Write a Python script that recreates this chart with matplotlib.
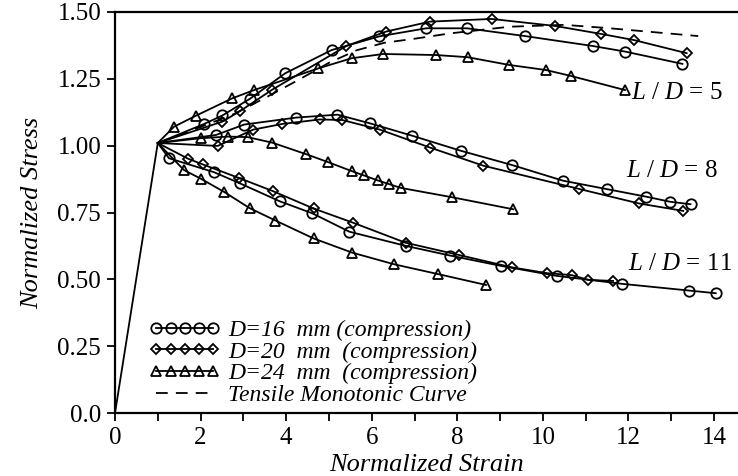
import matplotlib
matplotlib.use("Agg")
import matplotlib.pyplot as plt
from matplotlib.ticker import FixedLocator, MultipleLocator

plt.rcParams['font.family'] = ['Liberation Serif', 'DejaVu Serif']
plt.rcParams['mathtext.fontset'] = 'custom'
plt.rcParams['mathtext.rm'] = 'Liberation Serif'
plt.rcParams['mathtext.it'] = 'Liberation Serif:italic'

# ---------------- data ----------------
elastic_x = [0.0, 1.0]
elastic_y = [0.0, 1.01]

# L/D = 5
c5_x = [1.0, 2.08, 2.51, 3.15, 3.98, 5.07, 6.18, 7.27, 8.23, 9.58, 11.16, 11.92, 13.26]
c5_y = [1.01, 1.081, 1.113, 1.175, 1.271, 1.358, 1.409, 1.439, 1.439, 1.410, 1.373, 1.352, 1.306]
d5_x = [1.0, 2.51, 2.92, 3.67, 5.41, 6.34, 7.36, 8.80, 10.28, 11.36, 12.13, 13.36]
d5_y = [1.01, 1.090, 1.129, 1.209, 1.373, 1.427, 1.464, 1.474, 1.448, 1.418, 1.395, 1.346]
t5_x = [1.0, 1.38, 1.89, 2.74, 3.25, 4.75, 5.53, 6.27, 7.50, 8.24, 9.21, 10.07, 10.65, 11.92]
t5_y = [1.01, 1.071, 1.112, 1.177, 1.208, 1.289, 1.327, 1.343, 1.339, 1.331, 1.302, 1.283, 1.261, 1.208]

# L/D = 8
c8_x = [1.0, 2.36, 3.02, 4.23, 5.20, 5.97, 6.93, 8.08, 9.27, 10.47, 11.51, 12.42, 12.98, 13.45]
c8_y = [1.01, 1.040, 1.079, 1.105, 1.116, 1.083, 1.038, 0.981, 0.928, 0.869, 0.837, 0.809, 0.790, 0.781]
d8_x = [1.0, 2.40, 3.23, 3.90, 4.79, 5.31, 6.19, 7.36, 8.61, 10.85, 12.24, 13.28]
d8_y = [1.01, 0.999, 1.060, 1.081, 1.098, 1.096, 1.060, 0.993, 0.925, 0.838, 0.784, 0.756]
t8_x = [1.0, 2.01, 2.65, 3.10, 3.68, 4.47, 4.97, 5.53, 5.81, 6.14, 6.41, 6.68, 7.88, 9.31]
t8_y = [1.01, 1.028, 1.034, 1.032, 1.011, 0.968, 0.939, 0.905, 0.889, 0.870, 0.856, 0.842, 0.807, 0.762]

# L/D = 11
c11_x = [1.0, 1.26, 2.31, 2.92, 3.85, 4.61, 5.48, 6.80, 7.83, 9.03, 10.32, 11.86, 13.42, 14.04]
c11_y = [1.01, 0.953, 0.901, 0.859, 0.792, 0.747, 0.678, 0.625, 0.589, 0.550, 0.513, 0.483, 0.458, 0.448]
d11_x = [1.0, 1.71, 2.05, 2.90, 3.69, 4.64, 5.56, 6.79, 8.04, 9.27, 10.10, 10.67, 11.06, 11.64]
d11_y = [1.01, 0.951, 0.930, 0.879, 0.830, 0.765, 0.712, 0.637, 0.591, 0.545, 0.523, 0.516, 0.498, 0.494]
t11_x = [1.0, 1.61, 2.01, 2.55, 3.15, 3.75, 4.64, 5.54, 6.53, 7.54, 8.67]
t11_y = [1.01, 0.909, 0.876, 0.827, 0.766, 0.720, 0.653, 0.600, 0.556, 0.520, 0.479]

# Tensile monotonic curve
ten_x = [1.0, 1.5, 2.0, 2.76, 3.5, 4.3, 5.0, 5.65, 6.3, 7.0, 7.83, 9.23, 10.5, 11.5, 12.42, 13.63]
ten_y = [1.01, 1.04, 1.07, 1.117, 1.178, 1.247, 1.31, 1.357, 1.385, 1.400, 1.420, 1.445, 1.452, 1.440, 1.427, 1.410]

legend_labels = ["D=16  mm (compression)", "D=20  mm  (compression)",
                 "D=24  mm  (compression)", "Tensile Monotonic Curve"]
ld_labels = [r"$L\ /\ D\,=\,5$", r"$L\ /\ D\,=\,8$", r"$L\ /\ D\,=\,11$"]
ld_pos_x = [12.05, 11.95, 11.98]
ld_pos_y = [1.197, 0.905, 0.557]

xticks_major = [0, 2, 4, 6, 8, 10, 12, 14]
yticks = [0.0, 0.25, 0.5, 0.75, 1.0, 1.25, 1.5]
ytick_labels = ["0.0", "0.25", "0.50", "0.75", "1.00", "1.25", "1.50"]

# ---------------- plot ----------------
fig = plt.figure(figsize=(7.38, 4.76), dpi=100)
ax = fig.add_axes([115 / 738, 1 - 413 / 476, (738 - 115) / 738, (413 - 12) / 476])

lw = 1.3
mew = 1.3
common = dict(color='black', lw=lw, mfc='none', mec='black', mew=mew, markevery=slice(1, None))

ax.plot(elastic_x, elastic_y, color='black', lw=lw)
hc, = ax.plot(c5_x, c5_y, marker='o', ms=7.5, label=legend_labels[0], **common)
hd, = ax.plot(d5_x, d5_y, marker='D', ms=5.5, label=legend_labels[1], **common)
ht, = ax.plot(t5_x, t5_y, marker='^', ms=7.5, label=legend_labels[2], **common)
ax.plot(c8_x, c8_y, marker='o', ms=7.5, **common)
ax.plot(d8_x, d8_y, marker='D', ms=5.5, **common)
ax.plot(t8_x, t8_y, marker='^', ms=7.5, **common)
ax.plot(c11_x, c11_y, marker='o', ms=7.5, **common)
ax.plot(d11_x, d11_y, marker='D', ms=5.5, **common)
ax.plot(t11_x, t11_y, marker='^', ms=7.5, **common)
hten, = ax.plot(ten_x, ten_y, color='black', lw=lw, linestyle=(0, (6.5, 4.5)), label=legend_labels[3])

for lab, lx, ly in zip(ld_labels, ld_pos_x, ld_pos_y):
    ax.text(lx, ly, lab, fontsize=18, ha='left', va='center')

ax.set_xlim(0, 14.56)
ax.set_ylim(0, 1.5)
ax.xaxis.set_major_locator(FixedLocator(xticks_major))
ax.xaxis.set_minor_locator(MultipleLocator(1))
ax.set_yticks(yticks)
ax.set_yticklabels(ytick_labels)
ax.tick_params(axis='both', which='both', direction='out', length=6, width=1.3, labelsize=18, color='black')
ax.tick_params(axis='x', pad=4)
ax.tick_params(axis='y', pad=4)

for s in ['left', 'bottom', 'top']:
    ax.spines[s].set_linewidth(1.6)
ax.spines['right'].set_visible(False)

ax.set_xlabel("Normalized Strain", fontsize=19, style='italic', labelpad=4)
ax.set_ylabel("Normalized Stress", fontsize=19, style='italic', labelpad=10)

leg = ax.legend(handles=[hc, hd, ht, hten], loc='lower left', bbox_to_anchor=(0.055, 0.018),
                frameon=False, numpoints=5, markerscale=1.0, handlelength=3.0, handletextpad=0.35,
                labelspacing=0.0, borderpad=0, borderaxespad=0,
                prop={'family': 'Liberation Serif', 'style': 'italic', 'size': 17})

fig.savefig("out.png", dpi=100)
